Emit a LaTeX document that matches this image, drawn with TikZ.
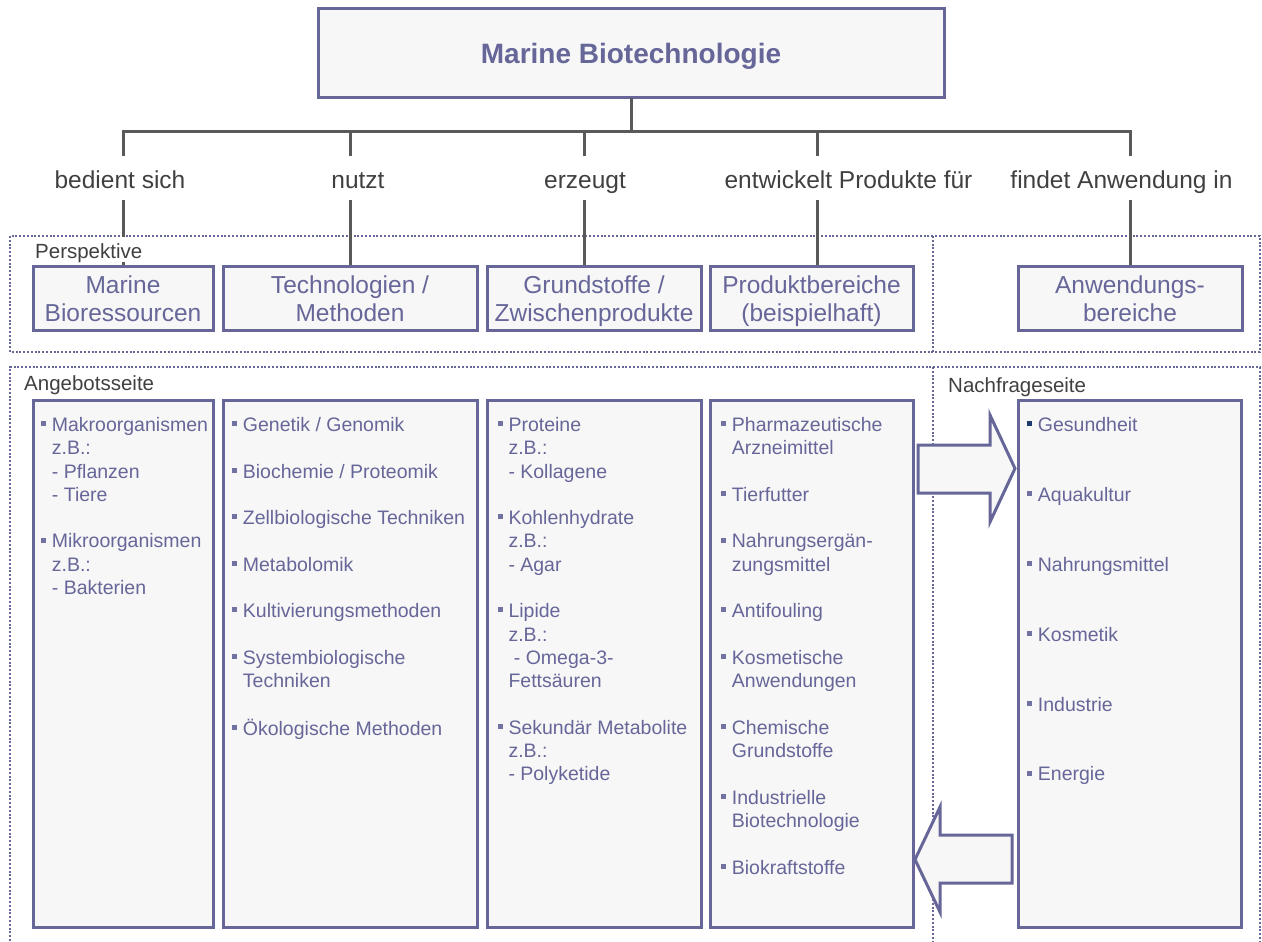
\documentclass[tikz,border=0pt]{standalone}
\usepackage{fontspec}
\setmainfont{Liberation Sans}
\usetikzlibrary{calc}
\definecolor{boxc}{HTML}{666699}
\definecolor{txtc}{HTML}{666699}
\definecolor{fillc}{HTML}{F7F7F7}
\definecolor{linec}{HTML}{595959}
\definecolor{labc}{HTML}{404040}
\definecolor{bulc}{HTML}{7272A2}
\definecolor{navc}{HTML}{1F3A6E}
\newcommand{\lbul}[1][bulc]{\strut\makebox[11pt][l]{\textcolor{#1}{\rule[5.4pt]{5pt}{5pt}}}}
\newcommand{\lind}{\strut\hspace*{11pt}}
\begin{document}
\begin{tikzpicture}[x=1pt,y=-1pt,
  box/.style={draw=boxc, fill=fillc, line width=3pt, inner sep=0pt, outer sep=0pt, anchor=north west},
  conn/.style={draw=linec, line width=3pt},
  frame/.style={draw=boxc, line width=2pt, dash pattern=on 2pt off 1.8pt},
  lbl/.style={text=labc, font=\fontsize{24.5}{28.4}\selectfont, inner sep=0pt, anchor=base},
  ptxt/.style={text=txtc, font=\fontsize{24.5}{28.4}\selectfont, align=center, inner sep=0pt, anchor=north},
  ltxt/.style={text=txtc, font=\fontsize{19.5}{23.3}\selectfont, align=left, inner sep=0pt, anchor=north west},
  sec/.style={text=labc, font=\fontsize{20.5}{24}\selectfont, inner sep=0pt, anchor=base west},
  barrow/.style={draw=boxc, fill=fillc, line width=3pt, line join=miter}
]
\useasboundingbox (0,0) rectangle (1262,942);

% dotted frames
\draw[frame] (10,236) rectangle (1260,352);
\draw[frame] (933,236) -- (933,352);
\draw[frame] (10,960) -- (10,367) -- (1260,367) -- (1260,960);
\draw[frame] (933,367) -- (933,960);

% title box
\node[box, minimum width=626pt, minimum height=89pt] (top) at (318,9) {};
\node[text=txtc, font=\bfseries\fontsize{28}{33}\selectfont, anchor=base, inner sep=0pt] (title) at (631,63.3) {Marine Biotechnologie};

% tree connectors
\coordinate (j1) at (123,131);
\coordinate (j2) at (350,131);
\coordinate (j3) at (584,131);
\coordinate (j4) at (817,131);
\coordinate (j5) at (1130,131);
\draw[conn] (top.south) -- (top.south |- j1);
\draw[conn] (j1 |- 0,156) -- (j1) -- (j5) -- (j5 |- 0,156);
\draw[conn] (j2) -- (j2 |- 0,156);
\draw[conn] (j3) -- (j3 |- 0,156);
\draw[conn] (j4) -- (j4 |- 0,156);

% verb labels
\node[lbl] (l1) at (120,188.3) {bedient sich};
\node[lbl] (l2) at (358,188.3) {nutzt};
\node[lbl] (l3) at (585,188.3) {erzeugt};
\node[lbl] (l4) at (848.5,188.3) {entwickelt Produkte für};
\node[lbl] (l5) at (1121.5,188.3) {findet Anwendung in};

% anchor points of the perspective boxes (tops)
\coordinate (pt1) at (123,266);
\coordinate (pt2) at (350,266);
\coordinate (pt3) at (584,266);
\coordinate (pt4) at (817,266);
\coordinate (pt5) at (1130,266);
\draw[conn] (j1 |- 0,200) -- (pt1);
\draw[conn] (j2 |- 0,200) -- (pt2);
\draw[conn] (j3 |- 0,200) -- (pt3);
\draw[conn] (j4 |- 0,200) -- (pt4);
\draw[conn] (j5 |- 0,200) -- (pt5);

\node[sec, fill=white, text height=21pt, text depth=4pt, inner xsep=3pt] (persp) at (32,258.3) {Perspektive};

% perspective boxes
\node[box, minimum width=180pt, minimum height=64pt] (p1) at (33,266) {};
\node[box, minimum width=254pt, minimum height=64pt] (p2) at (223,266) {};
\node[box, minimum width=214pt, minimum height=64pt] (p3) at (487,266) {};
\node[box, minimum width=203pt, minimum height=64pt] (p4) at (710,266) {};
\node[box, minimum width=224pt, minimum height=64pt] (p5) at (1018,266) {};

\node[ptxt] (t1) at ($(p1.north)+(0,7.4)$) {\strut Marine\\\strut Bioressourcen};
\node[ptxt] (t2) at ($(p2.north)+(0,7.4)$) {\strut Technologien /\\\strut Methoden};
\node[ptxt] (t3) at ($(p3.north)+(0,7.4)$) {\strut Grundstoffe /\\\strut Zwischenprodukte};
\node[ptxt] (t4) at ($(p4.north)+(0,7.4)$) {\strut Produktbereiche\\\strut (beispielhaft)};
\node[ptxt] (t5) at ($(p5.north)+(0,7.4)$) {\strut Anwendungs-\\\strut bereiche};

% section labels
\node[sec] (ang) at (24,390) {Angebotsseite};
\node[sec] (nach) at (948,392) {Nachfrageseite};

% lower boxes
\node[box, minimum width=180pt, minimum height=527pt] (q1) at (33,400) {};
\node[box, minimum width=254pt, minimum height=527pt] (q2) at (223,400) {};
\node[box, minimum width=214pt, minimum height=527pt] (q3) at (487,400) {};
\node[box, minimum width=203pt, minimum height=527pt] (q4) at (710,400) {};
\node[box, minimum width=223pt, minimum height=527pt] (q5) at (1018,400) {};

\node[ltxt] (s1) at (40.7,414.9) {\lbul Makroorganismen\\
\lind z.B.:\\
\lind - Pflanzen\\
\lind - Tiere\\[23.3pt]
\lbul Mikroorganismen\\
\lind z.B.:\\
\lind - Bakterien};

\node[ltxt] (s2) at (231.7,414.9) {\lbul Genetik / Genomik\\[23.3pt]
\lbul Biochemie / Proteomik\\[23.3pt]
\lbul Zellbiologische Techniken\\[23.3pt]
\lbul Metabolomik\\[23.3pt]
\lbul Kultivierungsmethoden\\[23.3pt]
\lbul Systembiologische\\
\lind Techniken\\[23.3pt]
\lbul Ökologische Methoden};

\node[ltxt] (s3) at (497.3,414.9) {\lbul Proteine\\
\lind z.B.:\\
\lind - Kollagene\\[23.3pt]
\lbul Kohlenhydrate\\
\lind z.B.:\\
\lind - Agar\\[23.3pt]
\lbul Lipide\\
\lind z.B.:\\
\lind\ - Omega-3-\\
\lind Fettsäuren\\[23.3pt]
\lbul Sekundär Metabolite\\
\lind z.B.:\\
\lind - Polyketide};

\node[ltxt] (s4) at (720.7,414.9) {\lbul Pharmazeutische\\
\lind Arzneimittel\\[23.3pt]
\lbul Tierfutter\\[23.3pt]
\lbul Nahrungsergän-\\
\lind zungsmittel\\[23.3pt]
\lbul Antifouling\\[23.3pt]
\lbul Kosmetische\\
\lind Anwendungen\\[23.3pt]
\lbul Chemische\\
\lind Grundstoffe\\[23.3pt]
\lbul Industrielle\\
\lind Biotechnologie\\[23.3pt]
\lbul Biokraftstoffe};

\node[ltxt] (s5) at (1026.7,414.9) {\lbul[navc]Gesundheit\\[46.6pt]
\lbul Aquakultur\\[46.6pt]
\lbul Nahrungsmittel\\[46.6pt]
\lbul Kosmetik\\[46.6pt]
\lbul Industrie\\[46.6pt]
\lbul Energie};

% block arrows
\draw[barrow] (918,445) -- (990,445) -- (990,415) -- (1015,468.5) -- (990,522) -- (990,493) -- (918,493) -- cycle;
\draw[barrow] (1012,835) -- (940,835) -- (940,807) -- (915,859.5) -- (940,912) -- (940,883) -- (1012,883) -- cycle;
\end{tikzpicture}
\end{document}
